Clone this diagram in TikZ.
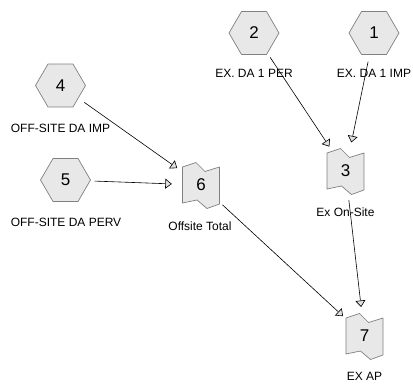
\documentclass[tikz,border=0pt]{standalone}
\usepackage{fontspec}
\setmainfont{Liberation Sans}
\usetikzlibrary{arrows.meta,calc}

\tikzset{
  shapeline/.style={draw=black!50, fill=black!9, line width=0.7pt, line join=round},
  % flat-topped hexagon for the input blocks
  hexpic/.pic={\path[shapeline] (-25,0) -- (-12.5,-21.5) -- (12.5,-21.5) -- (25,0)
      -- (12.5,21.5) -- (-12.5,21.5) -- cycle;},
  % notched tape for the summing blocks
  tapepic/.pic={\path[shapeline] (-18.5,-18) -- (-5,-22.5) -- (4,-13.5) -- (18.5,-18)
      -- (18.5,19) -- (6,23.5) -- (-4,15) -- (-18.5,18) -- cycle;},
  vertex/.style={circle, minimum size=58pt, inner sep=0pt, font=\fontsize{17}{17}\selectfont},
  caption/.style={font=\fontsize{12}{12}\selectfont, inner sep=0pt},
  flow/.style={-{Triangle[open, length=6.5pt, width=10pt, fill=black!12]}, line width=0.6pt}
}

\begin{document}
\begin{tikzpicture}[x=1pt, y=-1pt]
\useasboundingbox (0,0) rectangle (413,386);
\fill[white] (0,0) rectangle (413,386);

% block outlines
\pic at (374,33)   {hexpic};
\pic at (254,33)   {hexpic};
\pic at (60.5,85.5) {hexpic};
\pic at (65.5,180) {hexpic};
\pic at (345.5,171) {tapepic};
\pic at (201,185)  {tapepic};
\pic at (364.5,336) {tapepic};

% block numbers
\node[vertex] (n1) at (374,33)    {1};
\node[vertex] (n2) at (254,33)    {2};
\node[vertex] (n3) at (345.5,171) {3};
\node[vertex] (n4) at (60.5,85.5) {4};
\node[vertex] (n5) at (65.5,180)  {5};
\node[vertex] (n6) at (201,185)   {6};
\node[vertex] (n7) at (364.5,336) {7};

% block captions
\node[caption] (c1) at (374,73)    {EX. DA 1 IMP};
\node[caption] (c2) at (254,73)    {EX. DA 1 PER};
\node[caption] (c3) at (345.5,212.5) {Ex On-Site};
\node[caption] (c4) at (60.5,128.5) {OFF-SITE DA IMP};
\node[caption] (c5) at (66,222.5)  {OFF-SITE DA PERV};
\node[caption] (c6) at (200,226)   {Offsite Total};
\node[caption] (c7) at (364.5,376.5) {EX AP};

% flows
\draw[flow] (n2) -- (n3);
\draw[flow] (n1) -- (n3);
\draw[flow] (n4) -- (n6);
\draw[flow] (n5) -- (n6);
\draw[flow] (n6) -- (n7);
\draw[flow] (n3) -- (n7);
\end{tikzpicture}
\end{document}
